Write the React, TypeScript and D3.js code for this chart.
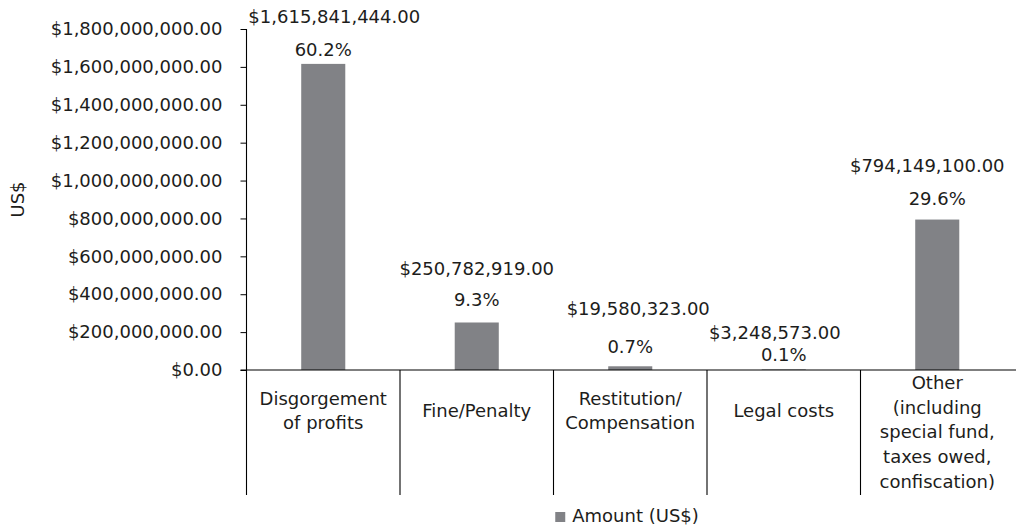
import React, { useEffect, useRef } from "react";
import * as d3 from "d3";

// chart data
const categories = [
  "Disgorgement of profits",
  "Fine/Penalty",
  "Restitution/ Compensation",
  "Legal costs",
  "Other (including special fund, taxes owed, confiscation)",
];
const categoryLines = [
  ["Disgorgement", "of profits"],
  ["Fine/Penalty"],
  ["Restitution/", "Compensation"],
  ["Legal costs"],
  ["Other", "(including", "special fund,", "taxes owed,", "confiscation)"],
];
const amounts = [1615841444, 250782919, 19580323, 3248573, 794149100];
const shares = ["60.2%", "9.3%", "0.7%", "0.1%", "29.6%"];
const yTicks = [0, 2e8, 4e8, 6e8, 8e8, 1e9, 1.2e9, 1.4e9, 1.6e9, 1.8e9];
const seriesName = "Amount (US$)";
const axisTitle = "US$";

const App = () => {
  const chartRef = useRef<HTMLDivElement>(null);

  useEffect(() => {
    const el = chartRef.current;
    if (!el) return;
    el.innerHTML = "";

    const width = 1017;
    const height = 526;
    const marginLeft = 246.5;
    const plotRight = 1014;
    const plotTop = 29;
    const plotBottom = 370;
    const catBottom = 495;
    const barColor = "#818286";
    const ink = "#1d1d1b";
    const font = "'DejaVu Sans', sans-serif";

    // manual label nudges (the original labels were moved by hand)
    const valueLift = [41, 47, 51, 30, 48];
    const shareLift = [8, 16, 13, 8, 15];
    const valueShift = [11, 0, 8, -9, -10];

    const x = d3
      .scaleBand<string>()
      .domain(categories)
      .range([marginLeft, plotRight]);

    const y = d3
      .scaleLinear()
      .domain([0, 1.8e9])
      .range([plotBottom, plotTop]);

    const money = d3.format("$,.2f");
    const cx = (i: number) => x(categories[i])! + x.bandwidth() / 2;

    const svg = d3
      .create("svg")
      .attr("width", width)
      .attr("height", height)
      .attr("viewBox", [0, 0, width, height])
      .attr("style", `position:absolute;left:0;top:0;background:#fff;font-family:${font};`);

    // bars
    const barW = x.bandwidth() * 0.287;
    svg
      .append("g")
      .attr("fill", barColor)
      .selectAll()
      .data(amounts)
      .join("rect")
      .attr("x", (d, i) => cx(i) - barW / 2)
      .attr("y", (d) => y(d))
      .attr("width", barW)
      .attr("height", (d) => y(0) - y(d));

    // y axis
    svg
      .append("g")
      .attr("transform", `translate(${marginLeft},0)`)
      .call(d3.axisLeft(y).tickValues(yTicks).tickFormat((d) => money(+d)).tickSize(6).tickPadding(18))
      .call((g) => g.select(".domain").remove())
      .call((g) => g.selectAll("line").attr("stroke", "#000"))
      .call((g) =>
        g
          .selectAll("text")
          .attr("fill", ink)
          .attr("font-size", "18px")
          .attr("font-family", font)
      );

    // axis lines + category separators
    const lines = svg.append("g").attr("stroke", "#000").attr("stroke-width", 1.1);
    lines
      .append("line")
      .attr("x1", marginLeft)
      .attr("x2", marginLeft)
      .attr("y1", plotTop)
      .attr("y2", plotBottom);
    lines
      .append("line")
      .attr("x1", marginLeft - 6)
      .attr("x2", plotRight + 2)
      .attr("y1", y(0))
      .attr("y2", y(0));
    lines
      .selectAll(".sep")
      .data(categories)
      .join("line")
      .attr("class", "sep")
      .attr("x1", (d) => x(d)!)
      .attr("x2", (d) => x(d)!)
      .attr("y1", plotBottom)
      .attr("y2", catBottom);

    // category labels
    const lineH = 24.7;
    const catG = svg
      .append("g")
      .attr("fill", ink)
      .attr("font-size", "18px")
      .attr("text-anchor", "middle");
    categoryLines.forEach((ls, i) => {
      const first = Math.max(417 - ((ls.length - 1) / 2) * lineH, 389);
      const t = catG.append("text").attr("x", cx(i)).attr("y", first);
      ls.forEach((s, j) => {
        t.append("tspan")
          .attr("x", cx(i))
          .attr("y", first + j * lineH)
          .text(s);
      });
    });

    // data labels
    const lab = svg
      .append("g")
      .attr("fill", ink)
      .attr("font-size", "18px")
      .attr("text-anchor", "middle");
    lab
      .selectAll(".val")
      .data(amounts)
      .join("text")
      .attr("class", "val")
      .attr("x", (d, i) => cx(i) + valueShift[i])
      .attr("y", (d, i) => y(d) - valueLift[i])
      .text((d) => money(d));
    lab
      .selectAll(".pct")
      .data(amounts)
      .join("text")
      .attr("class", "pct")
      .attr("x", (d, i) => cx(i))
      .attr("y", (d, i) => y(d) - shareLift[i])
      .text((d, i) => shares[i]);

    // y title
    svg
      .append("text")
      .attr("transform", `translate(18,${(plotTop + plotBottom) / 2}) rotate(-90)`)
      .attr("text-anchor", "middle")
      .attr("dy", "0.35em")
      .attr("fill", ink)
      .attr("font-size", "18px")
      .text(axisTitle);

    // legend
    const legX = (marginLeft + plotRight) / 2 - 75;
    const leg = svg.append("g").attr("transform", `translate(${legX},512)`);
    leg.append("rect").attr("width", 10).attr("height", 10).attr("fill", barColor);
    leg
      .append("text")
      .attr("x", 17)
      .attr("y", 10)
      .attr("fill", ink)
      .attr("font-size", "18px")
      .text(seriesName);

    el.appendChild(svg.node()!);
  }, []);

  return <div ref={chartRef}></div>;
};

export default App;
